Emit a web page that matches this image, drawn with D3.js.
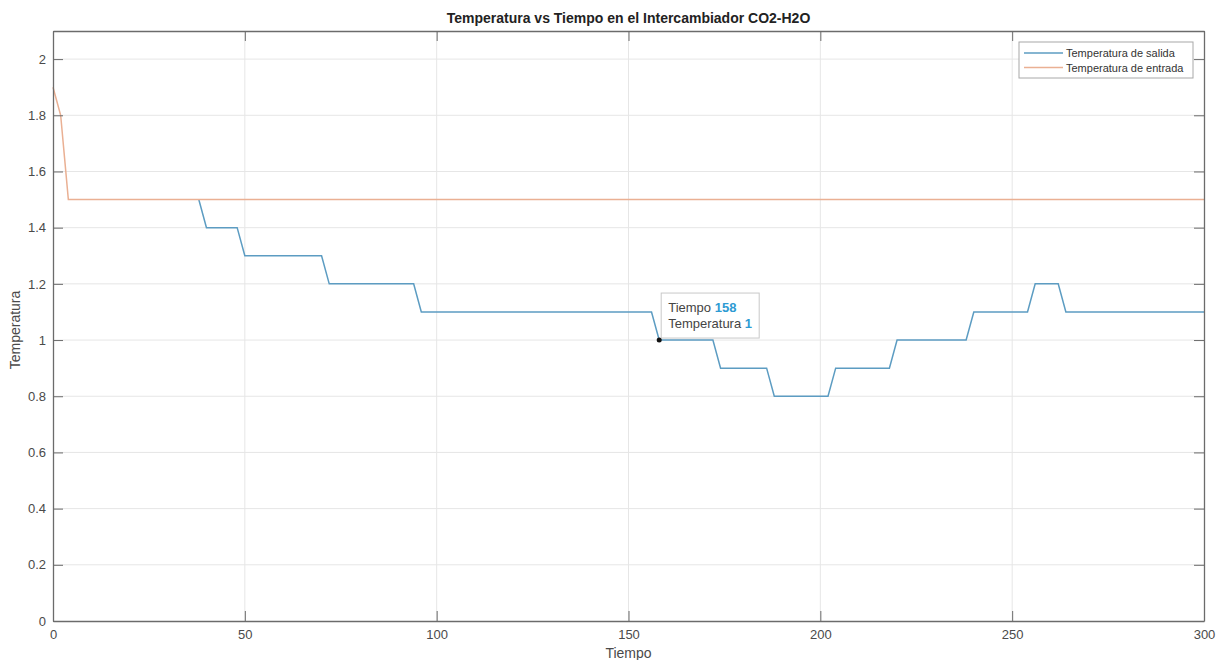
<!DOCTYPE html>
<html>
<head>
<meta charset="utf-8">
<script src="https://cdn.jsdelivr.net/npm/d3@7"></script>
<style>
  html, body { margin: 0; padding: 0; background: #fff; }
  svg { display: block; font-family: "Liberation Sans", Arial, sans-serif; }
</style>
</head>
<body>
<svg id="chart" width="1216" height="660"></svg>
<script>
// Outlet temperature (step profile) and inlet temperature over time
const salidaTiempo = [38, 40, 48, 50, 70, 72, 94, 96, 156, 158, 172, 174, 186, 188, 202, 204, 218, 220, 238, 240, 254, 256, 262, 264, 300];
const salidaTemp   = [1.5, 1.4, 1.4, 1.3, 1.3, 1.2, 1.2, 1.1, 1.1, 1.0, 1.0, 0.9, 0.9, 0.8, 0.8, 0.9, 0.9, 1.0, 1.0, 1.1, 1.1, 1.2, 1.2, 1.1, 1.1];
const entradaTiempo = [0, 1, 2, 3, 4, 300];
const entradaTemp   = [1.9, 1.85, 1.8, 1.65, 1.5, 1.5];

const xTicks = [0, 50, 100, 150, 200, 250, 300];
const yTicks = [0, 0.2, 0.4, 0.6, 0.8, 1, 1.2, 1.4, 1.6, 1.8, 2];

const seriesNames = ["Temperatura de salida", "Temperatura de entrada"];
const seriesColors = ["#5c9cc2", "#eab093"];

const tipPoint = { t: 158, v: 1 };

const svg = d3.select("#chart");
const m = { left: 53, right: 1204, top: 31, bottom: 621 };

const x = d3.scaleLinear().domain([0, 300]).range([m.left, m.right]);
const y = d3.scaleLinear().domain([0, 2.1]).range([m.bottom, m.top]);

const axisColor = "#6b6b6b";
const textColor = "#4a4a4a";

// grid
const grid = svg.append("g");
grid.selectAll(".gx").data(xTicks.slice(1, -1)).join("line")
  .attr("x1", d => x(d)).attr("x2", d => x(d))
  .attr("y1", m.top).attr("y2", m.bottom)
  .attr("stroke", "#e6e6e6").attr("stroke-width", 1);
grid.selectAll(".gy").data(yTicks.slice(1)).join("line")
  .attr("x1", m.left).attr("x2", m.right)
  .attr("y1", d => y(d)).attr("y2", d => y(d))
  .attr("stroke", "#e6e6e6").attr("stroke-width", 1);

// lines
const line = d3.line().x(d => x(d[0])).y(d => y(d[1]));
const salida = salidaTiempo.map((t, i) => [t, salidaTemp[i]]);
const entrada = entradaTiempo.map((t, i) => [t, entradaTemp[i]]);

svg.append("path").datum(salida).attr("d", line)
  .attr("fill", "none").attr("stroke", seriesColors[0]).attr("stroke-width", 1.5);
svg.append("path").datum(entrada).attr("d", line)
  .attr("fill", "none").attr("stroke", seriesColors[1]).attr("stroke-width", 1.5);

// axes (box with inward ticks on all four sides)
const tickLen = 10;
const axB = d3.axisBottom(x).tickValues(xTicks).tickSizeInner(-tickLen).tickSizeOuter(0).tickPadding(9).tickFormat(d3.format("d"));
const axL = d3.axisLeft(y).tickValues(yTicks).tickSizeInner(-tickLen).tickSizeOuter(0).tickPadding(7).tickFormat(d => d3.format("~g")(d));
const axT = d3.axisTop(x).tickValues(xTicks).tickSizeInner(-tickLen).tickSizeOuter(0).tickFormat("");
const axR = d3.axisRight(y).tickValues(yTicks).tickSizeInner(-tickLen).tickSizeOuter(0).tickFormat("");

function style(g) {
  g.select(".domain").attr("stroke", axisColor).attr("stroke-width", 1.3);
  g.selectAll(".tick line").attr("stroke", axisColor).attr("stroke-width", 1);
  g.selectAll(".tick text").attr("fill", textColor).attr("font-size", 13);
}
svg.append("g").attr("transform", `translate(0,${m.bottom})`).call(axB).call(style);
svg.append("g").attr("transform", `translate(${m.left},0)`).call(axL).call(style);
svg.append("g").attr("transform", `translate(0,${m.top})`).call(axT).call(style);
svg.append("g").attr("transform", `translate(${m.right},0)`).call(axR).call(style);

// titles
svg.append("text").attr("x", (m.left + m.right) / 2).attr("y", 23)
  .attr("text-anchor", "middle").attr("font-size", 14).attr("font-weight", "bold")
  .attr("fill", "#222").text("Temperatura vs Tiempo en el Intercambiador CO2-H2O");
svg.append("text").attr("x", (m.left + m.right) / 2).attr("y", 658)
  .attr("text-anchor", "middle").attr("font-size", 14).attr("fill", textColor).text("Tiempo");
svg.append("text").attr("transform", `translate(20,${(m.top + m.bottom) / 2 + 4}) rotate(-90)`)
  .attr("text-anchor", "middle").attr("font-size", 14).attr("fill", textColor).text("Temperatura");

// legend
const lg = svg.append("g").attr("transform", "translate(1019,42)");
lg.append("rect").attr("width", 174).attr("height", 36)
  .attr("fill", "#fff").attr("stroke", "#a8a8a8").attr("stroke-width", 1);
seriesNames.forEach((name, i) => {
  const yy = 11 + i * 14.5;
  lg.append("line").attr("x1", 5).attr("x2", 44).attr("y1", yy).attr("y2", yy)
    .attr("stroke", seriesColors[i]).attr("stroke-width", 1.5);
  lg.append("text").attr("x", 47).attr("y", yy + 4).attr("font-size", 11)
    .attr("fill", "#333").text(name);
});

// data tip
const px = x(tipPoint.t), py = y(tipPoint.v);
const tip = svg.append("g").attr("transform", `translate(${px + 2},${py - 47})`);
tip.append("rect").attr("width", 98).attr("height", 45)
  .attr("fill", "#fff").attr("fill-opacity", 0.92).attr("stroke", "#c8c8c8").attr("stroke-width", 1);
const t1 = tip.append("text").attr("x", 7).attr("y", 19).attr("font-size", 13).attr("fill", "#444");
t1.append("tspan").text("Tiempo ");
t1.append("tspan").attr("fill", "#2e9bd3").attr("font-weight", "bold").text(tipPoint.t);
const t2 = tip.append("text").attr("x", 7).attr("y", 35).attr("font-size", 13).attr("fill", "#444");
t2.append("tspan").text("Temperatura ");
t2.append("tspan").attr("fill", "#2e9bd3").attr("font-weight", "bold").text(tipPoint.v);
svg.append("circle").attr("cx", px).attr("cy", py).attr("r", 2.5).attr("fill", "#111");
</script>
</body>
</html>
